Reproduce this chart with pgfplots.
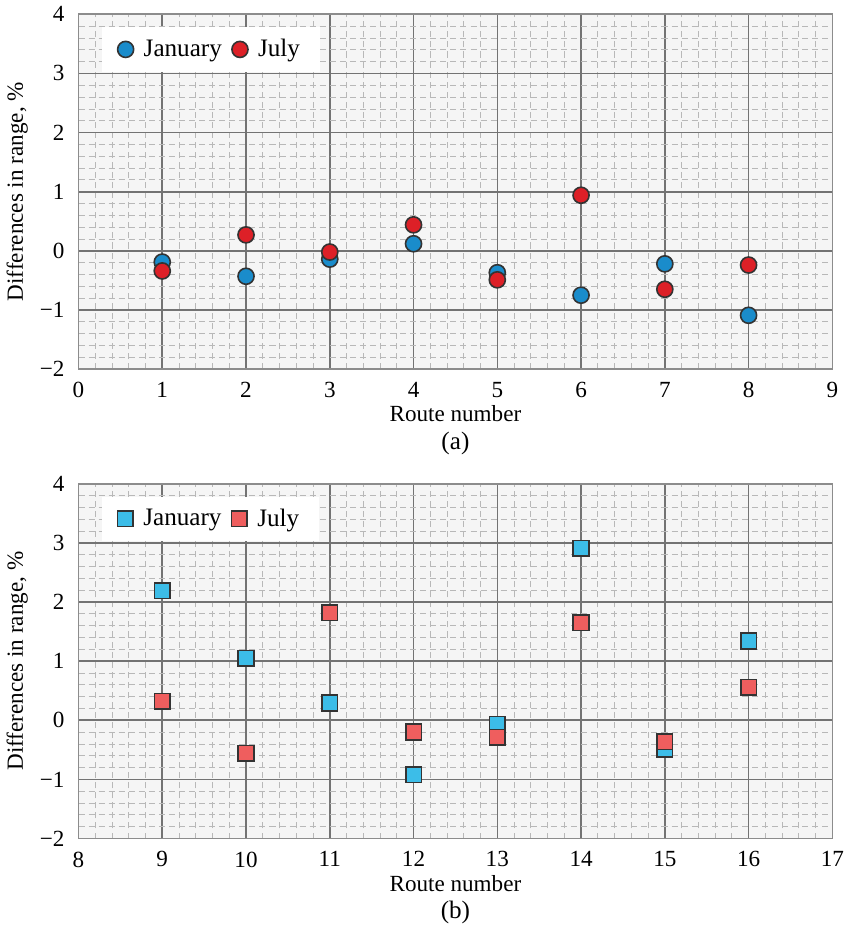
\documentclass[border=0pt]{standalone}
\usepackage{fontspec}
\setmainfont{Liberation Serif}
\usepackage{pgfplots}
\pgfplotsset{compat=1.18}

\definecolor{janC}{HTML}{1A8CCB}
\definecolor{julC}{HTML}{DD2027}
\definecolor{janS}{HTML}{3CBDE8}
\definecolor{julS}{HTML}{EF5E5E}

\pgfplotsset{
  rangeplot/.style={
    scale only axis,
    width=375pt, height=176.5pt,
    font=\fontsize{11.5}{13}\selectfont,
    /pgf/number format/assume math mode=true,
    ymin=-2, ymax=4, ytick={-2,-1,0,1,2,3,4},
    yticklabels={−2,−1,0,1,2,3,4},
    yticklabel style={xshift=-3.5pt},
    xticklabel style={yshift=-3pt},
    minor x tick num=4, minor y tick num=4,
    grid=both,
    major grid style={line width=0.8pt, black!55},
    minor grid style={line width=0.4pt, densely dashed, black!28},
    major tick length=0pt, minor tick length=0pt,
    axis line style={black!45, line width=0.8pt},
    axis background/.style={fill=black!4},
    xlabel={Route number},
    ylabel={Differences in range, \%},
    xlabel style={yshift=3pt},
    ylabel style={yshift=-1pt},
    legend columns=2,
    legend style={at={(0.03,0.965)}, anchor=north west, draw=none, fill=white,
      font=\fontsize{12.5}{14}\selectfont, inner xsep=8pt, inner ysep=4pt,
      column sep=3pt},
    legend cell align=left,
  },
}

\begin{document}
\begin{tikzpicture}
\begin{axis}[rangeplot, name=top, at={(0,0)}, anchor=north west,
  xmin=0, xmax=9, xtick={0,1,...,9}]
  % January
  \addplot[only marks, mark=*, mark size=4pt,
    mark options={fill=janC, draw=black!80, line width=0.8pt}] coordinates {
    (1,-0.19) (2,-0.43) (3,-0.14) (4,0.12)
    (5,-0.37) (6,-0.75) (7,-0.22) (8,-1.09)
  };
  % July
  \addplot[only marks, mark=*, mark size=4pt,
    mark options={fill=julC, draw=black!80, line width=0.8pt}] coordinates {
    (1,-0.34) (2,0.27) (3,-0.02) (4,0.44)
    (5,-0.49) (6,0.94) (7,-0.65) (8,-0.24)
  };
  \legend{January, July}
\end{axis}
\node[font=\fontsize{12.5}{14}\selectfont] at ([yshift=-37pt]top.south) {(a)};

\begin{axis}[rangeplot, name=bot, at={(0,-233.5pt)}, anchor=north west,
  xmin=8, xmax=17, xtick={8,9,...,17}]
  % January
  \addplot[only marks, mark=square*, mark size=3.9pt,
    mark options={fill=janS, draw=black!80, line width=0.8pt}] coordinates {
    (9,2.19) (10,1.05) (11,0.29) (12,-0.92)
    (13,-0.07) (14,2.91) (15,-0.49) (16,1.34)
  };
  % July
  \addplot[only marks, mark=square*, mark size=3.9pt,
    mark options={fill=julS, draw=black!80, line width=0.8pt}] coordinates {
    (9,0.32) (10,-0.56) (11,1.82) (12,-0.20)
    (13,-0.29) (14,1.65) (15,-0.36) (16,0.56)
  };
  \legend{January, July}
\end{axis}
\node[font=\fontsize{12.5}{14}\selectfont] at ([yshift=-37pt]bot.south) {(b)};
\end{tikzpicture}
\end{document}
